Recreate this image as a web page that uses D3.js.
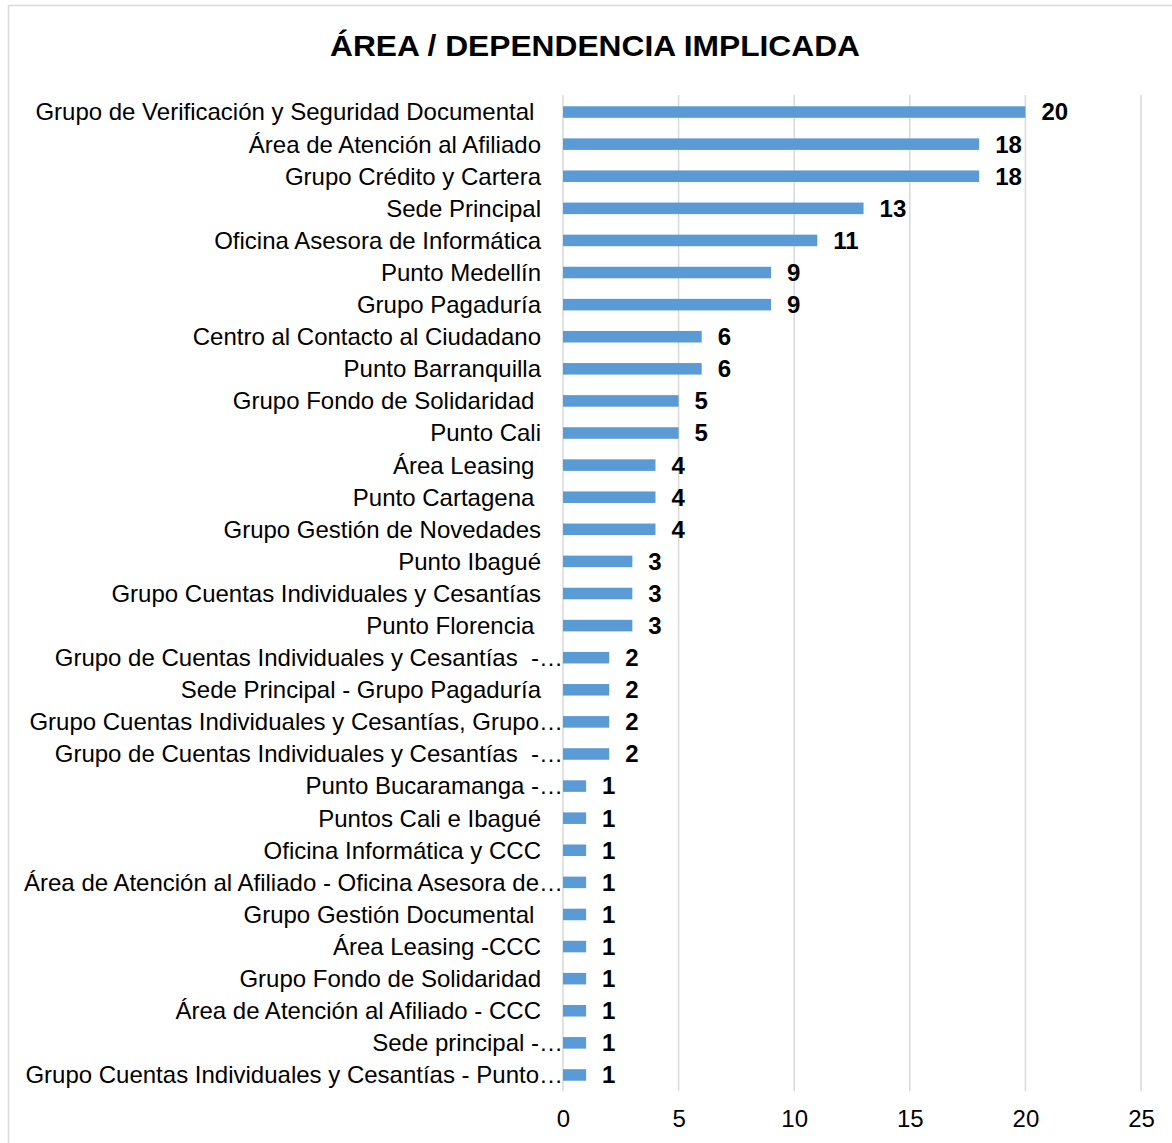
<!DOCTYPE html>
<html>
<head>
<meta charset="utf-8">
<script src="https://cdn.jsdelivr.net/npm/d3@7"></script>
<style>
  body { margin: 0; background: #fff; }
  svg text { font-family: "Liberation Sans", Arial, sans-serif; white-space: pre; }
</style>
</head>
<body>
<svg id="chart" width="1172" height="1143"></svg>
<script>
const title = "ÁREA / DEPENDENCIA IMPLICADA";
const categories = [
  "Grupo de Verificación y Seguridad Documental ",
  "Área de Atención al Afiliado",
  "Grupo Crédito y Cartera",
  "Sede Principal",
  "Oficina Asesora de Informática",
  "Punto Medellín",
  "Grupo Pagaduría",
  "Centro al Contacto al Ciudadano",
  "Punto Barranquilla",
  "Grupo Fondo de Solidaridad ",
  "Punto Cali",
  "Área Leasing ",
  "Punto Cartagena ",
  "Grupo Gestión de Novedades",
  "Punto Ibagué",
  "Grupo Cuentas Individuales y Cesantías",
  "Punto Florencia ",
  "Grupo de Cuentas Individuales y Cesantías  -…",
  "Sede Principal - Grupo Pagaduría",
  "Grupo Cuentas Individuales y Cesantías, Grupo…",
  "Grupo de Cuentas Individuales y Cesantías  -…",
  "Punto Bucaramanga -…",
  "Puntos Cali e Ibagué",
  "Oficina Informática y CCC",
  "Área de Atención al Afiliado - Oficina Asesora de…",
  "Grupo Gestión Documental ",
  "Área Leasing -CCC",
  "Grupo Fondo de Solidaridad",
  "Área de Atención al Afiliado - CCC",
  "Sede principal -…",
  "Grupo Cuentas Individuales y Cesantías - Punto…"
];
const values = [20, 18, 18, 13, 11, 9, 9, 6, 6, 5, 5, 4, 4, 4, 3, 3, 3, 2, 2, 2, 2, 1, 1, 1, 1, 1, 1, 1, 1, 1, 1];
const xTicks = [0, 5, 10, 15, 20, 25];

const svg = d3.select("#chart");

// outer border
svg.append("rect")
  .attr("x", 8.5).attr("y", 5.5)
  .attr("width", 1172).attr("height", 1160)
  .attr("fill", "#fff").attr("stroke", "#d9d9d9").attr("stroke-width", 1.5);

svg.append("text")
  .attr("x", 595).attr("y", 56)
  .attr("text-anchor", "middle")
  .attr("font-size", 30).attr("font-weight", "bold")
  .attr("textLength", 530).attr("lengthAdjust", "spacingAndGlyphs")
  .attr("fill", "#000")
  .text(title);

const x = d3.scaleLinear().domain([0, 25]).range([563, 1141]);
const idx = d3.range(categories.length);
const y = d3.scaleBand().domain(idx).range([96, 1091]).paddingInner(0.64).paddingOuter(0.32);

// gridlines
svg.append("g").selectAll("line").data(xTicks).join("line")
  .attr("x1", d => x(d)).attr("x2", d => x(d))
  .attr("y1", 95).attr("y2", 1091)
  .attr("stroke", "#d9d9d9").attr("stroke-width", 1.5);

// x axis labels
const xAxis = d3.axisBottom(x).tickValues(xTicks).tickSize(0).tickPadding(0);
const gx = svg.append("g").attr("transform", "translate(0,1110)").call(xAxis);
gx.select(".domain").remove();
gx.selectAll("text")
  .attr("font-size", 24).attr("fill", "#000")
  .style("font-family", "'Liberation Sans', Arial, sans-serif")
  .attr("dy", "0.35em").attr("y", 9);

// bars
svg.append("g").selectAll("rect").data(idx).join("rect")
  .attr("x", x(0))
  .attr("y", i => y(i))
  .attr("width", i => x(values[i]) - x(0))
  .attr("height", y.bandwidth())
  .attr("fill", "#5b9bd5");

// category labels
svg.append("g").selectAll("text").data(idx).join("text")
  .attr("x", i => categories[i].endsWith("…") ? 563 : 541)
  .attr("y", i => y(i) + y.bandwidth() / 2)
  .attr("dy", "0.35em")
  .attr("text-anchor", "end")
  .attr("font-size", 24)
  .attr("fill", "#000")
  .text(i => categories[i]);

// value labels
svg.append("g").selectAll("text").data(idx).join("text")
  .attr("x", i => x(values[i]) + 16)
  .attr("y", i => y(i) + y.bandwidth() / 2)
  .attr("dy", "0.35em")
  .attr("font-size", 24).attr("font-weight", "bold")
  .attr("fill", "#000")
  .text(i => values[i]);
</script>
</body>
</html>
